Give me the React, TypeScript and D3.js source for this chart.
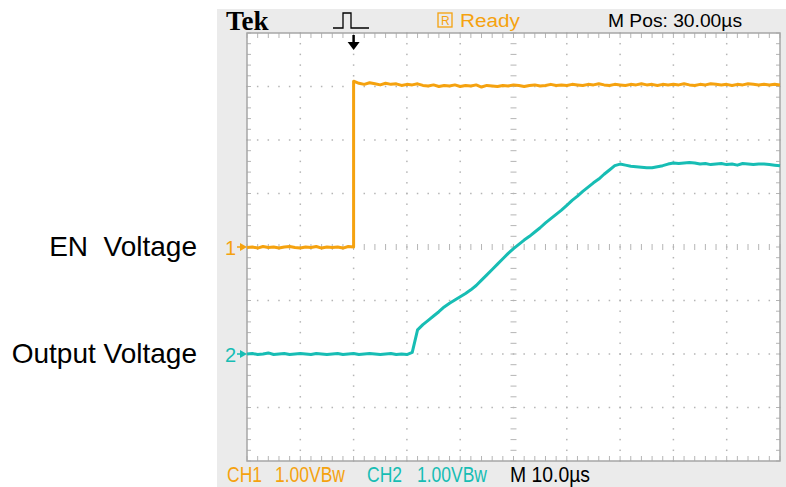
import React from 'react';
import * as d3 from 'd3';

// samples every 1 us, screen spans 0..100 us (10 us/div)
const ch1Low = [-0.01, 0.0, -0.02, 0.01, -0.01, 0.0, -0.02, 0.0, 0.01, -0.01, -0.02, 0.0, -0.01, 0.01, -0.02, 0.0, -0.01, 0.0, -0.02, 0.01, 0.0];
const ch1High = [
  3.1, 3.06, 3.04, 3.07, 3.05, 3.03, 3.06, 3.04, 3.05, 3.02, 3.04, 3.03, 3.05, 3.02, 3.01, 3.03, 3.0, 3.02, 3.01, 3.03,
  3.0, 3.02, 3.01, 3.03, 2.99, 3.02, 3.01, 3.0, 3.02, 3.01, 3.03, 3.02, 3.0, 3.02, 3.03, 3.01, 3.02, 3.04, 3.02, 3.03,
  3.02, 3.04, 3.03, 3.02, 3.04, 3.03, 3.05, 3.03, 3.02, 3.04, 3.03, 3.02, 3.04, 3.03, 3.05, 3.03, 3.04, 3.02, 3.04, 3.03,
  3.04, 3.03, 3.05, 3.03, 3.02, 3.04, 3.03, 3.05, 3.04, 3.03, 3.04, 3.02, 3.04, 3.03, 3.05, 3.04, 3.03, 3.04, 3.03, 3.04, 3.03,
];
const ch1Edge = 20; // us, trigger point

const ch2 = [
  0.0, 0.01, -0.01, 0.0, 0.02, -0.01, 0.0, 0.01, -0.01, 0.0, 0.01, 0.0, -0.01, 0.01, 0.0, -0.01, 0.0, 0.01, -0.01, 0.0,
  0.01, -0.01, 0.0, 0.01, 0.0, -0.01, 0.0, 0.01, -0.01, 0.0, -0.01,
  0.03, 0.45, 0.55, 0.63, 0.71, 0.79, 0.88, 0.95, 1.01, 1.07, 1.13, 1.2, 1.28, 1.38, 1.48, 1.58, 1.68, 1.78, 1.88, 1.97,
  2.05, 2.13, 2.2, 2.28, 2.36, 2.45, 2.53, 2.61, 2.69, 2.78, 2.87, 2.95, 3.04, 3.12, 3.2, 3.27, 3.36, 3.44, 3.52,
  3.55, 3.53, 3.51, 3.5, 3.49, 3.48, 3.48, 3.5, 3.52, 3.55, 3.57, 3.56, 3.57, 3.58, 3.57, 3.55, 3.56, 3.54, 3.55, 3.56,
  3.54, 3.55, 3.53, 3.56, 3.55, 3.54, 3.55, 3.55, 3.54, 3.53, 3.52,
];

const leftLabels = ['EN  Voltage', 'Output Voltage'];
const channelOffsets = [0, -2]; // ground marker position in divisions

const ORANGE = '#f5a20f';
const CYAN = '#17bdb4';
const GRID = '#b5b5b5';
const FRAME = '#ebebeb';

const App = () => {
  const width = 786;
  const height = 487;
  const plot = { left: 247, right: 780, top: 33, bottom: 461 };

  const x = d3.scaleLinear().domain([0, 100]).range([plot.left, plot.right]);
  const y = d3.scaleLinear().domain([-4, 4]).range([plot.bottom, plot.top]);

  const xMinor = x.ticks(50);
  const yMinor = y.ticks(40);
  const xMajor = x.ticks(10).filter(t => t > 0 && t < 100);
  const yMajor = y.ticks(8).filter(v => v > -4 && v < 4);

  const line = d3.line<[number, number]>().x(d => x(d[0])).y(d => d[1]);

  const ch1Pts: [number, number][] = [
    ...ch1Low.map((v, i) => [i, y(v + channelOffsets[0])] as [number, number]),
    ...ch1High.map((v, i) => [ch1Edge + i, y(v + channelOffsets[0])] as [number, number]),
  ];
  const ch2Pts: [number, number][] = ch2.map((v, i) => [i, y(v + channelOffsets[1])]);

  const sans = 'Liberation Sans, Arial, sans-serif';

  const marker = (label: string, color: string, off: number) => {
    const yy = y(off);
    return (
      <g key={label}>
        <text x={225} y={yy + 7.5} fontFamily={sans} fontSize={20} fill={color}>{label}</text>
        <line x1={237} x2={243} y1={yy} y2={yy} stroke={color} strokeWidth={1.5} />
        <path d={`M240,${yy - 4} L247,${yy} L240,${yy + 4} Z`} fill={color} />
      </g>
    );
  };

  const footer = (xPos: number, len: number, color: string, label: string) => (
    <text x={xPos} y={482} fontFamily={sans} fontSize={22} fill={color} textLength={len} lengthAdjust="spacingAndGlyphs">{label}</text>
  );

  return (
    <svg width={width} height={height} style={{ position: 'absolute', left: 0, top: 0, background: '#fff' }}>
      {/* scope frame */}
      <rect x={217} y={9} width={width - 217} height={height - 9} fill={FRAME} />
      <rect x={plot.left} y={plot.top} width={plot.right - plot.left} height={plot.bottom - plot.top} fill="#fff" />

      {/* dotted major grid */}
      {xMajor.filter(t => t !== 50).map(t =>
        yMinor.map(v => <rect key={`vx${t}_${v}`} x={x(t) - 0.75} y={y(v) - 0.75} width={1.5} height={1.5} fill={GRID} />)
      )}
      {yMajor.filter(v => v !== 0).map(v =>
        xMinor.map(t => <rect key={`hy${v}_${t}`} x={x(t) - 0.75} y={y(v) - 0.75} width={1.5} height={1.5} fill={GRID} />)
      )}
      {/* center lines with ticks */}
      {xMinor.map(t => <line key={`cx${t}`} x1={x(t)} x2={x(t)} y1={y(0) - 3} y2={y(0) + 3} stroke={GRID} strokeWidth={1} />)}
      {yMinor.map(v => <line key={`cy${v}`} x1={x(50) - 3} x2={x(50) + 3} y1={y(v)} y2={y(v)} stroke={GRID} strokeWidth={1} />)}
      {/* edge ticks */}
      {xMinor.map(t => (
        <g key={`et${t}`}>
          <line x1={x(t)} x2={x(t)} y1={plot.top} y2={plot.top + 5} stroke={GRID} strokeWidth={1} />
          <line x1={x(t)} x2={x(t)} y1={plot.bottom - 5} y2={plot.bottom} stroke={GRID} strokeWidth={1} />
        </g>
      ))}
      {yMinor.map(v => (
        <g key={`ey${v}`}>
          <line x1={plot.left} x2={plot.left + 4} y1={y(v)} y2={y(v)} stroke={GRID} strokeWidth={1} />
          <line x1={plot.right - 4} x2={plot.right} y1={y(v)} y2={y(v)} stroke={GRID} strokeWidth={1} />
        </g>
      ))}
      <rect x={plot.left} y={plot.top} width={plot.right - plot.left} height={plot.bottom - plot.top} fill="none" stroke="#a6a6a6" strokeWidth={1.5} />

      {/* traces */}
      <path d={line(ch1Pts) || ''} fill="none" stroke={ORANGE} strokeWidth={3} strokeLinejoin="round" />
      <path d={line(ch2Pts) || ''} fill="none" stroke={CYAN} strokeWidth={3} strokeLinejoin="round" />

      {/* ground markers */}
      {marker('1', ORANGE, channelOffsets[0])}
      {marker('2', CYAN, channelOffsets[1])}

      {/* trigger position arrow */}
      <line x1={x(ch1Edge)} x2={x(ch1Edge)} y1={plot.top + 2} y2={plot.top + 11} stroke="#000" strokeWidth={2.5} />
      <path d={`M${x(ch1Edge) - 6},${plot.top + 9} L${x(ch1Edge) + 6},${plot.top + 9} L${x(ch1Edge)},${plot.top + 17} Z`} fill="#000" />

      {/* header */}
      <text x={226} y={30} fontFamily="Liberation Serif, DejaVu Serif, serif" fontWeight="bold" fontSize={27} fill="#000">Tek</text>
      <path d="M333,28 H343 V13 H351 V28 H369" fill="none" stroke="#000" strokeWidth={1.3} />
      <rect x={438} y={13} width={14} height={14} fill="none" stroke={ORANGE} strokeWidth={1.3} />
      <text x={441} y={25} fontFamily={sans} fontSize={12} fill={ORANGE}>R</text>
      <text x={460} y={27} fontFamily={sans} fontSize={18} fill={ORANGE} textLength={60} lengthAdjust="spacingAndGlyphs">Ready</text>
      <text x={608} y={27} fontFamily={sans} fontSize={18} fill="#000" textLength={134} lengthAdjust="spacingAndGlyphs">M Pos: 30.00µs</text>

      {/* footer */}
      {footer(227, 35, ORANGE, 'CH1')}
      {footer(275, 70, ORANGE, '1.00VBw')}
      {footer(367, 35, CYAN, 'CH2')}
      {footer(417, 70, CYAN, '1.00VBw')}
      {footer(510, 80, '#000', 'M 10.0µs')}

      {/* side labels */}
      {leftLabels.map((label, i) => (
        <text key={label} x={197} y={y(channelOffsets[i]) + 9} textAnchor="end" fontFamily={sans} fontSize={28} fill="#000" style={{ whiteSpace: 'pre' }}>{label}</text>
      ))}
    </svg>
  );
};

export default App;
